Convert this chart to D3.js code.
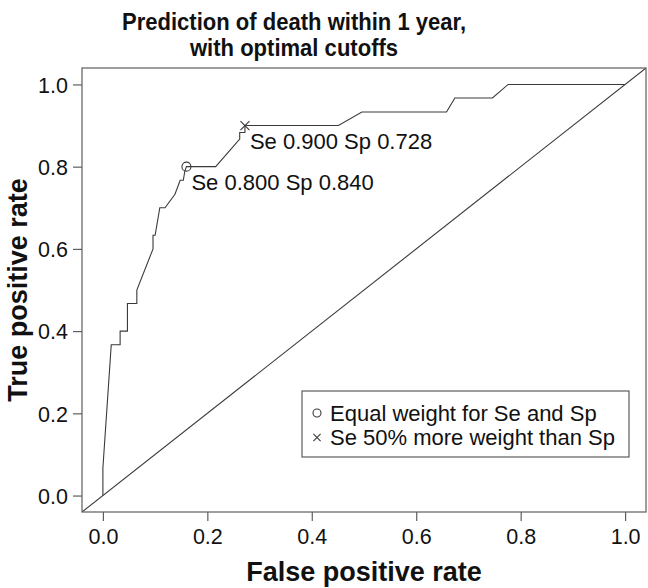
<!DOCTYPE html>
<html>
<head>
<meta charset="utf-8">
<script src="https://cdn.jsdelivr.net/npm/d3@7"></script>
<style>
  html, body { margin: 0; padding: 0; background: #fff; }
  svg { display: block; font-family: "Liberation Sans", Arial, Helvetica, sans-serif; }
</style>
</head>
<body>
<svg id="chart" width="648" height="588"></svg>
<script>
// ROC curve points (false positive rate, true positive rate)
const fpr = [0, 0, 0.016, 0.033, 0.033, 0.047, 0.047, 0.065, 0.065, 0.096, 0.096, 0.100, 0.109, 0.119, 0.138, 0.148, 0.154, 0.157, 0.160, 0.216, 0.262, 0.262, 0.272, 0.272, 0.451, 0.496, 0.658, 0.674, 0.746, 0.776, 1.0];
const tpr = [0, 0.067, 0.367, 0.367, 0.400, 0.400, 0.467, 0.467, 0.500, 0.600, 0.633, 0.633, 0.700, 0.700, 0.733, 0.767, 0.767, 0.790, 0.800, 0.800, 0.867, 0.883, 0.883, 0.900, 0.900, 0.933, 0.933, 0.967, 0.967, 1.000, 1.000];

// Optimal cutoffs
const cutLabels = ["Se 0.800 Sp 0.840", "Se 0.900 Sp 0.728"];
const cutFpr = [0.160, 0.272];
const cutTpr = [0.800, 0.900];
const cutSymbols = ["circle", "cross"];

const legendLabels = ["Equal weight for Se and Sp", "Se 50% more weight than Sp"];
const tickValues = [0.0, 0.2, 0.4, 0.6, 0.8, 1.0];
const titleLines = ["Prediction of death within 1 year,", "with optimal cutoffs"];
const xTitle = "False positive rate";
const yTitle = "True positive rate";

(function () {
const svg = d3.select("#chart");
const pL = 82, pR = 646, pT = 68, pB = 512;

const x = d3.scaleLinear().domain([-0.04, 1.04]).range([pL, pR]);
const y = d3.scaleLinear().domain([-0.04, 1.04]).range([pB, pT]);

const boxColor = "#5e5e5e";
const lineColor = "#3a3a3a";
const textColor = "#111";

// Title (slightly condensed bold face)
svg.append("g").selectAll("text").data(titleLines).join("text")
  .attr("transform", (d, i) => `translate(294,${30 + i * 26}) scale(0.9,1)`)
  .attr("text-anchor", "middle")
  .attr("font-weight", "bold")
  .attr("font-size", 24.5)
  .attr("fill", textColor)
  .text(d => d);

// Clip
svg.append("clipPath").attr("id", "clip")
  .append("rect").attr("x", pL).attr("y", pT).attr("width", pR - pL).attr("height", pB - pT);

// Diagonal reference line
svg.append("line")
  .attr("clip-path", "url(#clip)")
  .attr("x1", x(-0.04)).attr("y1", y(-0.04))
  .attr("x2", x(1.04)).attr("y2", y(1.04))
  .attr("stroke", lineColor).attr("stroke-width", 1.1);

// ROC curve
const pts = fpr.map((f, i) => [f, tpr[i]]);
svg.append("path")
  .datum(pts)
  .attr("fill", "none")
  .attr("stroke", lineColor)
  .attr("stroke-width", 1.1)
  .attr("d", d3.line().x(d => x(d[0])).y(d => y(d[1])));

// Axes
const xAxis = svg.append("g")
  .attr("transform", `translate(0,${pB})`)
  .call(d3.axisBottom(x).tickValues(tickValues).tickFormat(d3.format(".1f")).tickSize(9).tickPadding(8));
const yAxis = svg.append("g")
  .attr("transform", `translate(${pL},0)`)
  .call(d3.axisLeft(y).tickValues(tickValues).tickFormat(d3.format(".1f")).tickSize(9).tickPadding(5));
[xAxis, yAxis].forEach(g => {
  g.select(".domain").remove();
  g.selectAll("line").attr("stroke", boxColor).attr("stroke-width", 1.2);
  g.selectAll("text").attr("font-size", 21.5).attr("fill", textColor).attr("font-family", "Liberation Sans, Arial, sans-serif");
});
yAxis.selectAll("text").attr("dy", "0.36em");

// Box
svg.append("rect")
  .attr("x", pL).attr("y", pT)
  .attr("width", pR - pL).attr("height", pB - pT)
  .attr("fill", "none").attr("stroke", boxColor).attr("stroke-width", 1.2);

// Symbols
function drawSymbol(g, type, cx, cy, s) {
  if (type === "circle") {
    g.append("circle").attr("cx", cx).attr("cy", cy).attr("r", s)
      .attr("fill", "none").attr("stroke", lineColor).attr("stroke-width", 1.1);
  } else {
    g.append("path")
      .attr("d", `M${cx - s},${cy - s}L${cx + s},${cy + s}M${cx - s},${cy + s}L${cx + s},${cy - s}`)
      .attr("stroke", lineColor).attr("stroke-width", 1.1).attr("fill", "none");
  }
}
const markG = svg.append("g");
cutFpr.forEach((f, i) => {
  drawSymbol(markG, cutSymbols[i], x(f), y(cutTpr[i]), 4.5);
  markG.append("text")
    .attr("x", x(f) + 5)
    .attr("y", y(cutTpr[i]) + 23.5)
    .attr("font-size", 22)
    .attr("fill", textColor)
    .text(cutLabels[i]);
});

// Legend
const lg = svg.append("g");
lg.append("rect")
  .attr("x", 302).attr("y", 391).attr("width", 327).attr("height", 66)
  .attr("fill", "#fff").attr("stroke", boxColor).attr("stroke-width", 1.2);
legendLabels.forEach((lab, i) => {
  const base = 420.5 + i * 24.5;
  drawSymbol(lg, cutSymbols[i], 317, base - 7.5, i === 0 ? 4 : 3.6);
  lg.append("text")
    .attr("x", 330).attr("y", base)
    .attr("font-size", 22)
    .attr("fill", textColor)
    .text(lab);
});

// Axis titles
svg.append("text")
  .attr("x", (pL + pR) / 2).attr("y", 581)
  .attr("text-anchor", "middle")
  .attr("font-weight", "bold").attr("font-size", 27)
  .attr("fill", textColor)
  .text(xTitle);
svg.append("text")
  .attr("transform", `translate(27,${(pT + pB) / 2}) rotate(-90)`)
  .attr("text-anchor", "middle")
  .attr("font-weight", "bold").attr("font-size", 27)
  .attr("fill", textColor)
  .text(yTitle);
})();
</script>
</body>
</html>
